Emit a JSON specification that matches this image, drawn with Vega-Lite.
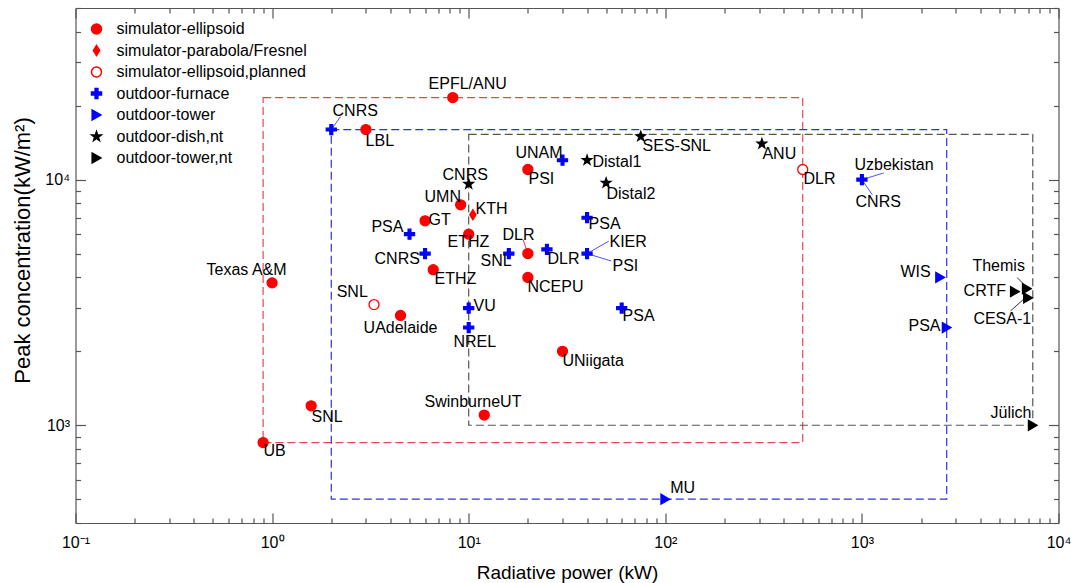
{
  "$schema": "https://vega.github.io/schema/vega-lite/v6.json",
  "width": 983,
  "height": 515,
  "autosize": {"type": "none"},
  "padding": {"left": 75.5, "top": 8, "right": 12, "bottom": 60},
  "background": "white",
  "config": {
    "view": {"stroke": null},
    "font": "Liberation Sans",
    "axis": {
      "grid": false,
      "domainColor": "#555555",
      "tickColor": "#555555",
      "domainWidth": 1.2,
      "tickWidth": 1.2,
      "labelFont": "Liberation Sans",
      "labelFontSize": 16,
      "labelColor": "#000000",
      "titleFont": "Liberation Sans",
      "titleFontSize": 19,
      "titleFontWeight": "normal",
      "titleColor": "#000000",
      "labelFlush": false,
      "labelOverlap": false
    },
    "legend": {
      "orient": "top-left",
      "offset": 13,
      "padding": 0,
      "labelFont": "Liberation Sans",
      "labelFontSize": 16,
      "labelColor": "#000000",
      "symbolSize": 100,
      "rowPadding": 5.5,
      "labelOffset": 12,
      "symbolStrokeWidth": 1.5,
      "labelLimit": 400
    }
  },
  "datasets": {
    "boxes": [
      {"box": "simulator", "x1": 0.9, "x2": 500, "y1": 850, "y2": 21600},
      {"box": "outdoor", "x1": 2, "x2": 2700, "y1": 500, "y2": 16000},
      {"box": "nt", "x1": 10, "x2": 7400, "y1": 1000, "y2": 15300}
    ],
    "leaders": [
      {"grp": "blue", "x": 2, "y": 16000, "x2": 2.23, "y2": 18060},
      {"grp": "red", "x": 20, "y": 5000, "x2": 18.9, "y2": 5710},
      {"grp": "blue", "x": 40, "y": 5000, "x2": 51.6, "y2": 5620},
      {"grp": "blue", "x": 40, "y": 5000, "x2": 53.2, "y2": 4663},
      {"grp": "blue", "x": 1000, "y": 10000, "x2": 1292, "y2": 10650},
      {"grp": "blue", "x": 1000, "y": 10000, "x2": 1128, "y2": 8690},
      {"grp": "black", "x": 6170, "y": 3990, "x2": 6790, "y2": 3690},
      {"grp": "black", "x": 5700, "y": 2922, "x2": 6790, "y2": 3311}
    ],
    "points": [
      {"name": "EPFL/ANU", "type": "simulator-ellipsoid", "x": 8.3, "y": 21600},
      {"name": "LBL", "type": "simulator-ellipsoid", "x": 3, "y": 16000},
      {"name": "PSI", "type": "simulator-ellipsoid", "x": 20, "y": 11000},
      {"name": "UMN", "type": "simulator-ellipsoid", "x": 9.1, "y": 7900},
      {"name": "GT", "type": "simulator-ellipsoid", "x": 6, "y": 6800},
      {"name": "ETHZ", "type": "simulator-ellipsoid", "x": 10, "y": 6000},
      {"name": "DLR", "type": "simulator-ellipsoid", "x": 20, "y": 5000},
      {"name": "ETHZ", "type": "simulator-ellipsoid", "x": 6.6, "y": 4300},
      {"name": "NCEPU", "type": "simulator-ellipsoid", "x": 20, "y": 4000},
      {"name": "Texas A&M", "type": "simulator-ellipsoid", "x": 1, "y": 3800},
      {"name": "UAdelaide", "type": "simulator-ellipsoid", "x": 4.5, "y": 2800},
      {"name": "UNiigata", "type": "simulator-ellipsoid", "x": 30, "y": 2000},
      {"name": "SNL", "type": "simulator-ellipsoid", "x": 1.58, "y": 1200},
      {"name": "SwinburneUT", "type": "simulator-ellipsoid", "x": 12, "y": 1100},
      {"name": "UB", "type": "simulator-ellipsoid", "x": 0.9, "y": 850},
      {"name": "KTH", "type": "simulator-parabola/Fresnel", "x": 10.5, "y": 7200},
      {"name": "SNL", "type": "simulator-ellipsoid,planned", "x": 3.3, "y": 3100},
      {"name": "DLR", "type": "simulator-ellipsoid,planned", "x": 500, "y": 11000},
      {"name": "CNRS", "type": "outdoor-furnace", "x": 2, "y": 16000},
      {"name": "UNAM", "type": "outdoor-furnace", "x": 30, "y": 12000},
      {"name": "PSA", "type": "outdoor-furnace", "x": 5, "y": 6000},
      {"name": "CNRS", "type": "outdoor-furnace", "x": 6, "y": 5000},
      {"name": "SNL", "type": "outdoor-furnace", "x": 16, "y": 5000},
      {"name": "DLR", "type": "outdoor-furnace", "x": 25, "y": 5200},
      {"name": "PSA", "type": "outdoor-furnace", "x": 40, "y": 7000},
      {"name": "KIER/PSI", "type": "outdoor-furnace", "x": 40, "y": 5000},
      {"name": "VU", "type": "outdoor-furnace", "x": 10, "y": 3000},
      {"name": "NREL", "type": "outdoor-furnace", "x": 10, "y": 2500},
      {"name": "PSA", "type": "outdoor-furnace", "x": 60, "y": 3000},
      {"name": "Uzbekistan/CNRS", "type": "outdoor-furnace", "x": 1000, "y": 10000},
      {"name": "MU", "type": "outdoor-tower", "x": 100, "y": 500},
      {"name": "WIS", "type": "outdoor-tower", "x": 2500, "y": 4000},
      {"name": "PSA", "type": "outdoor-tower", "x": 2700, "y": 2500},
      {"name": "CNRS", "type": "outdoor-dish,nt", "x": 10, "y": 9600},
      {"name": "SES-SNL", "type": "outdoor-dish,nt", "x": 75, "y": 15000},
      {"name": "Distal1", "type": "outdoor-dish,nt", "x": 40, "y": 12000},
      {"name": "Distal2", "type": "outdoor-dish,nt", "x": 50, "y": 9700},
      {"name": "ANU", "type": "outdoor-dish,nt", "x": 310, "y": 14000},
      {"name": "Jülich", "type": "outdoor-tower,nt", "x": 7400, "y": 1000},
      {"name": "Themis", "type": "outdoor-tower,nt", "x": 6900, "y": 3600},
      {"name": "CRTF", "type": "outdoor-tower,nt", "x": 6000, "y": 3500},
      {"name": "CESA-1", "type": "outdoor-tower,nt", "x": 7000, "y": 3300}
    ],
    "labels": [
      {"label": "EPFL/ANU", "x": 6.25, "y": 24500},
      {"label": "CNRS", "x": 2.03, "y": 19000},
      {"label": "LBL", "x": 2.99, "y": 14400},
      {"label": "UNAM", "x": 17.3, "y": 12870},
      {"label": "Distal1", "x": 42.6, "y": 11830},
      {"label": "SES-SNL", "x": 76.6, "y": 13740},
      {"label": "ANU", "x": 312, "y": 12750},
      {"label": "CNRS", "x": 7.36, "y": 10480},
      {"label": "PSI", "x": 20.15, "y": 10090},
      {"label": "Distal2", "x": 50.2, "y": 8770},
      {"label": "DLR", "x": 505, "y": 10090},
      {"label": "Uzbekistan", "x": 917, "y": 11500},
      {"label": "CNRS", "x": 928, "y": 8140},
      {"label": "UMN", "x": 5.96, "y": 8530},
      {"label": "KTH", "x": 10.83, "y": 7630},
      {"label": "GT", "x": 6.25, "y": 6820},
      {"label": "PSA", "x": 3.2, "y": 6390},
      {"label": "PSA", "x": 40.7, "y": 6630},
      {"label": "ETHZ", "x": 7.8, "y": 5550},
      {"label": "DLR", "x": 14.85, "y": 5980},
      {"label": "KIER", "x": 52, "y": 5600},
      {"label": "CNRS", "x": 3.32, "y": 4740},
      {"label": "SNL", "x": 11.48, "y": 4650},
      {"label": "DLR", "x": 25.17, "y": 4740},
      {"label": "PSI", "x": 53.9, "y": 4440},
      {"label": "ETHZ", "x": 6.7, "y": 3930},
      {"label": "NCEPU", "x": 19.9, "y": 3650},
      {"label": "Texas A&M", "x": 0.464, "y": 4270},
      {"label": "SNL", "x": 2.13, "y": 3480},
      {"label": "VU", "x": 10.58, "y": 3050},
      {"label": "PSA", "x": 60.6, "y": 2780},
      {"label": "UAdelaide", "x": 2.92, "y": 2490},
      {"label": "NREL", "x": 8.37, "y": 2180},
      {"label": "UNiigata", "x": 30, "y": 1830},
      {"label": "WIS", "x": 1572, "y": 4195},
      {"label": "Themis", "x": 3650, "y": 4440},
      {"label": "CRTF", "x": 3290, "y": 3510},
      {"label": "CESA-1", "x": 3690, "y": 2700},
      {"label": "PSA", "x": 1726, "y": 2530},
      {"label": "SwinburneUT", "x": 5.96, "y": 1245},
      {"label": "SNL", "x": 1.586, "y": 1083},
      {"label": "UB", "x": 0.904, "y": 788},
      {"label": "Jülich", "x": 4510, "y": 1124},
      {"label": "MU", "x": 106, "y": 553}
    ]
  },
  "resolve": {"axis": {"x": "independent", "y": "independent"}},
  "layer": [
    {
      "data": {"name": "boxes"},
      "transform": [{"filter": "datum.box == 'simulator'"}],
      "mark": {"type": "rect", "fill": "transparent", "stroke": "#e5484d", "strokeDash": [8, 4], "strokeWidth": 1.2},
      "encoding": {
        "x": {
          "field": "x1", "type": "quantitative",
          "scale": {"type": "log", "domain": [0.1, 10000], "nice": false},
          "axis": {
            "orient": "bottom",
            "title": "Radiative power (kW)",
            "titlePadding": 8,
            "values": [0.1,0.2,0.3,0.4,0.5,0.6,0.7,0.8,0.9,1,2,3,4,5,6,7,8,9,10,20,30,40,50,60,70,80,90,100,200,300,400,500,600,700,800,900,1000,2000,3000,4000,5000,6000,7000,8000,9000,10000],
            "labelExpr": "datum.value == 0.1 ? '10⁻¹' : datum.value == 1 ? '10⁰' : datum.value == 10 ? '10¹' : datum.value == 100 ? '10²' : datum.value == 1000 ? '10³' : datum.value == 10000 ? '10⁴' : ''",
            "tickSize": {"condition": {"test": "indexof([0.1,1,10,100,1000,10000], datum.value) >= 0", "value": -10}, "value": -5},
            "labelPadding": 21
          }
        },
        "x2": {"field": "x2"},
        "y": {
          "field": "y1", "type": "quantitative",
          "scale": {"type": "log", "domain": [400, 50000], "nice": false},
          "axis": {
            "orient": "left",
            "title": "Peak concentration(kW/m²)",
            "titleFontSize": 22,
            "titlePadding": 10,
            "titleY": 242,
            "values": [400,500,600,700,800,900,1000,2000,3000,4000,5000,6000,7000,8000,9000,10000,20000,30000,40000,50000],
            "labelExpr": "datum.value == 1000 ? '10³' : datum.value == 10000 ? '10⁴' : ''",
            "tickSize": {"condition": {"test": "datum.value == 1000 || datum.value == 10000", "value": -10}, "value": -5},
            "labelPadding": 16
          }
        },
        "y2": {"field": "y2"}
      }
    },
    {
      "data": {"name": "boxes"},
      "transform": [{"filter": "datum.box == 'outdoor'"}],
      "mark": {"type": "rect", "fill": "transparent", "stroke": "#2f2ff0", "strokeDash": [8, 4], "strokeWidth": 1.2},
      "encoding": {
        "x": {
          "field": "x1", "type": "quantitative",
          "scale": {"type": "log", "domain": [0.1, 10000], "nice": false},
          "axis": {
            "orient": "top",
            "title": null,
            "labels": false,
            "values": [0.1,0.2,0.3,0.4,0.5,0.6,0.7,0.8,0.9,1,2,3,4,5,6,7,8,9,10,20,30,40,50,60,70,80,90,100,200,300,400,500,600,700,800,900,1000,2000,3000,4000,5000,6000,7000,8000,9000,10000],
            "tickSize": {"condition": {"test": "indexof([0.1,1,10,100,1000,10000], datum.value) >= 0", "value": -10}, "value": -5}
          }
        },
        "x2": {"field": "x2"},
        "y": {
          "field": "y1", "type": "quantitative",
          "scale": {"type": "log", "domain": [400, 50000], "nice": false},
          "axis": {
            "orient": "right",
            "title": null,
            "labels": false,
            "values": [400,500,600,700,800,900,1000,2000,3000,4000,5000,6000,7000,8000,9000,10000,20000,30000,40000,50000],
            "tickSize": {"condition": {"test": "datum.value == 1000 || datum.value == 10000", "value": -10}, "value": -5}
          }
        },
        "y2": {"field": "y2"}
      }
    },
    {
      "data": {"name": "boxes"},
      "transform": [{"filter": "datum.box == 'nt'"}],
      "mark": {"type": "rect", "fill": "transparent", "stroke": "#555555", "strokeDash": [8, 4], "strokeWidth": 1.2},
      "encoding": {
        "x": {"field": "x1", "type": "quantitative", "axis": null},
        "x2": {"field": "x2"},
        "y": {"field": "y1", "type": "quantitative", "axis": null},
        "y2": {"field": "y2"}
      }
    },
    {
      "data": {"name": "leaders"},
      "transform": [{"filter": "datum.grp == 'blue'"}],
      "mark": {"type": "rule", "stroke": "#5050ff", "strokeWidth": 1},
      "encoding": {
        "x": {"field": "x", "type": "quantitative", "axis": null},
        "y": {"field": "y", "type": "quantitative", "axis": null},
        "x2": {"field": "x2"},
        "y2": {"field": "y2"}
      }
    },
    {
      "data": {"name": "leaders"},
      "transform": [{"filter": "datum.grp == 'red'"}],
      "mark": {"type": "rule", "stroke": "#ff3030", "strokeWidth": 1},
      "encoding": {
        "x": {"field": "x", "type": "quantitative", "axis": null},
        "y": {"field": "y", "type": "quantitative", "axis": null},
        "x2": {"field": "x2"},
        "y2": {"field": "y2"}
      }
    },
    {
      "data": {"name": "leaders"},
      "transform": [{"filter": "datum.grp == 'black'"}],
      "mark": {"type": "rule", "stroke": "#333333", "strokeWidth": 1},
      "encoding": {
        "x": {"field": "x", "type": "quantitative", "axis": null},
        "y": {"field": "y", "type": "quantitative", "axis": null},
        "x2": {"field": "x2"},
        "y2": {"field": "y2"}
      }
    },
    {
      "data": {"name": "points"},
      "mark": {"type": "point", "opacity": 1, "strokeWidth": 1.3, "size": 100},
      "encoding": {
        "x": {"field": "x", "type": "quantitative", "axis": null},
        "y": {"field": "y", "type": "quantitative", "axis": null},
        "fill": {
          "field": "type", "type": "nominal", "title": null,
          "scale": {
            "domain": ["simulator-ellipsoid", "simulator-parabola/Fresnel", "simulator-ellipsoid,planned", "outdoor-furnace", "outdoor-tower", "outdoor-dish,nt", "outdoor-tower,nt"],
            "range": ["#ff0000", "#ff0000", "#ffffff", "#0000ff", "#0000ff", "#000000", "#000000"]
          }
        },
        "stroke": {
          "field": "type", "type": "nominal", "title": null,
          "scale": {
            "domain": ["simulator-ellipsoid", "simulator-parabola/Fresnel", "simulator-ellipsoid,planned", "outdoor-furnace", "outdoor-tower", "outdoor-dish,nt", "outdoor-tower,nt"],
            "range": ["#ff0000", "#ff0000", "#ff0000", "#0000ff", "#0000ff", "#000000", "#000000"]
          }
        },
        "shape": {
          "field": "type", "type": "nominal", "title": null,
          "scale": {
            "domain": ["simulator-ellipsoid", "simulator-parabola/Fresnel", "simulator-ellipsoid,planned", "outdoor-furnace", "outdoor-tower", "outdoor-dish,nt", "outdoor-tower,nt"],
            "range": ["circle", "M0,-1L0.62,0L0,1L-0.62,0Z", "circle", "M-1,-0.28H-0.28V-1H0.28V-0.28H1V0.28H0.28V1H-0.28V0.28H-1Z", "triangle-right", "M0,-1L0.235,-0.324L0.951,-0.309L0.38,0.124L0.588,0.809L0,0.4L-0.588,0.809L-0.38,0.124L-0.951,-0.309L-0.235,-0.324Z", "triangle-right"]
          }
        }
      }
    },
    {
      "data": {"name": "labels"},
      "mark": {"type": "text", "align": "left", "baseline": "middle", "font": "Liberation Sans", "fontSize": 16, "fill": "#000000"},
      "encoding": {
        "x": {"field": "x", "type": "quantitative", "axis": null},
        "y": {"field": "y", "type": "quantitative", "axis": null},
        "text": {"field": "label"}
      }
    }
  ]
}
